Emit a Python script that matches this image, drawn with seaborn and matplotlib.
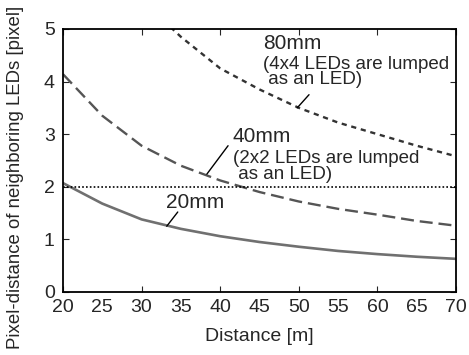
import numpy as np
import pandas as pd
import matplotlib
matplotlib.use("Agg")
import matplotlib.pyplot as plt
from matplotlib.ticker import MultipleLocator
import seaborn as sns

# distances [m]
distance = [20, 25, 30, 35, 40, 45, 50, 55, 60, 65, 70]
# pixel distance per LED pitch
led_20mm = [2.07, 1.68, 1.38, 1.20, 1.06, 0.95, 0.86, 0.78, 0.72, 0.67, 0.63]
led_40mm = [4.14, 3.35, 2.78, 2.40, 2.12, 1.90, 1.72, 1.58, 1.47, 1.35, 1.26]
distance_80 = [30, 35, 40, 45, 50, 55, 60, 65, 70]
led_80mm = [5.55, 4.85, 4.25, 3.85, 3.50, 3.22, 3.00, 2.78, 2.58]
threshold = 2.0

sns.set_style("ticks")
plt.rcParams['font.family'] = ['Liberation Sans', 'DejaVu Sans']
plt.rcParams['xtick.direction'] = 'in'
plt.rcParams['ytick.direction'] = 'in'

fig = plt.figure(figsize=(4.69, 3.55), dpi=100)
ax = fig.add_axes([0.1343, 0.1775, 0.838, 0.741])

df20 = pd.DataFrame({'d': distance, 'v': led_20mm})
df40 = pd.DataFrame({'d': distance, 'v': led_40mm})
df80 = pd.DataFrame({'d': distance_80, 'v': led_80mm})

sns.lineplot(data=df20, x='d', y='v', ax=ax, color='#707070', lw=1.9)
sns.lineplot(data=df40, x='d', y='v', ax=ax, color='#555555', lw=1.7,
             linestyle=(0, (5.5, 2.5)))
sns.lineplot(data=df80, x='d', y='v', ax=ax, color='#333333', lw=1.7,
             linestyle=(0, (2.2, 2.0)))
ax.axhline(threshold, color='black', lw=1.2, linestyle=(0, (1, 1.3)))

ax.set_xlim(20, 70)
ax.set_ylim(0, 5)
ax.xaxis.set_major_locator(MultipleLocator(10))
ax.xaxis.set_minor_locator(MultipleLocator(5))
ax.tick_params(axis='x', which='minor', length=0, labelsize=14, pad=5)
ax.tick_params(axis='x', which='major', pad=5)
ax.tick_params(axis='y', which='major', pad=6)
ax.tick_params(axis='both', which='major', length=4, width=0.8,
               labelsize=14, top=True, right=True)
ax.xaxis.set_minor_formatter(plt.FuncFormatter(lambda v, p: f"{v:.0f}"))
ax.yaxis.set_major_locator(MultipleLocator(1))
for s in ax.spines.values():
    s.set_linewidth(1.3)
    s.set_color('black')

ax.set_xlabel('Distance [m]', fontsize=14)
ax.xaxis.set_label_coords(0.5, -0.137)
ax.set_ylabel('Pixel-distance of neighboring LEDs [pixel]', fontsize=13.4)
ax.yaxis.set_label_coords(-0.1, 0.435)

# annotations
ax.text(45.4, 4.73, '80mm', fontsize=15, va='center', ha='left')
ax.text(45.4, 4.49, '(4x4 LEDs are lumped\n as an LED)', fontsize=13.5,
        va='top', ha='left', linespacing=0.9)
ax.plot([51.3, 49.8], [3.75, 3.50], color='black', lw=1)

ax.text(41.6, 2.95, '40mm', fontsize=15, va='center', ha='left')
ax.text(41.6, 2.69, '(2x2 LEDs are lumped\n as an LED)', fontsize=13.5,
        va='top', ha='left', linespacing=0.9)
ax.plot([41.0, 38.3], [2.78, 2.24], color='black', lw=1)

ax.text(33.1, 1.71, '20mm', fontsize=15, va='center', ha='left')
ax.plot([34.6, 33.2], [1.52, 1.25], color='black', lw=1)

fig.savefig('out.png', dpi=100)
